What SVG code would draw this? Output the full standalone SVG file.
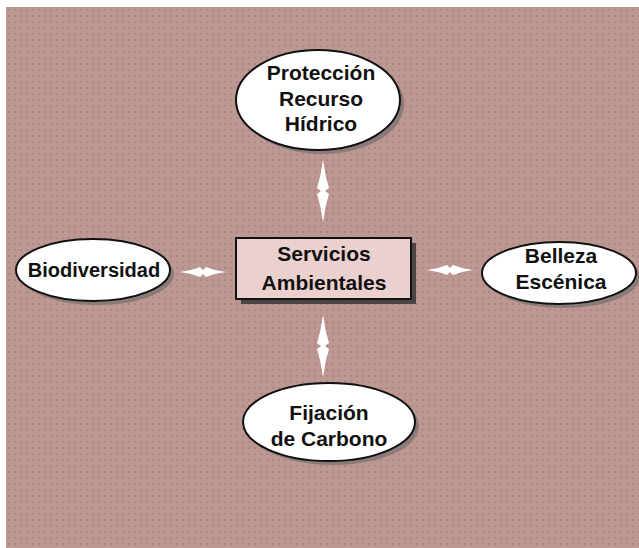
<svg xmlns="http://www.w3.org/2000/svg" width="639" height="548" viewBox="0 0 639 548">
<defs>
<pattern id="dots" x="6" y="7" width="6" height="6" patternUnits="userSpaceOnUse">
<rect width="6" height="6" fill="#bc9990"/>
<rect x="2" y="2" width="2" height="2" fill="#b8808c"/>
</pattern>
<pattern id="boxdots" x="0" y="0" width="6" height="6" patternUnits="userSpaceOnUse">
<rect width="6" height="6" fill="#ecd0d0"/>
<rect x="2" y="2" width="1" height="1" fill="#e8e0b8"/>
</pattern>
<path id="dblv" d="M0,-31 L3,-14 L6,-3 L2,0 L6,3 L3,14 L0,31 L-3,14 L-6,3 L-2,0 L-6,-3 L-3,-14 Z"/>
<path id="dblh" d="M-23,0 L-12,-2 L-3,-5 L0,-2 L3,-5 L12,-2 L23,0 L12,2 L3,5 L0,2 L-3,5 L-12,2 Z"/>
</defs>
<style>
.bg{fill:url(#dots)}
.node{fill:#ffffff;stroke:#111;stroke-width:2}
.shadow{fill:#8a7a78}
.lbl{font-family:"Liberation Sans",Arial,sans-serif;font-weight:bold;font-size:21px;fill:#111;text-anchor:middle}
.arrow{fill:#ffffff}
</style>
<rect x="0" y="0" width="639" height="548" fill="#ffffff"/>
<rect class="bg" x="6" y="7" width="633" height="541"/>
<g id="connectors">
<use href="#dblv" class="arrow" x="323" y="191"/>
<use href="#dblv" class="arrow" x="323" y="346"/>
<use href="#dblh" class="arrow" x="203" y="272"/>
<use href="#dblh" class="arrow" x="450" y="270"/>
</g>
<g id="node-proteccion">
<ellipse class="shadow" cx="322" cy="104" rx="82" ry="50"/>
<ellipse class="node" cx="318" cy="100" rx="82" ry="50"/>
<text class="lbl" x="321" y="80">Protección</text>
<text class="lbl" x="321" y="106">Recurso</text>
<text class="lbl" x="321" y="131">Hídrico</text>
</g>
<g id="node-servicios">
<rect x="241" y="243" width="175" height="61" style="fill:#4a4444"/>
<rect x="236" y="238" width="175" height="61" fill="url(#boxdots)" stroke="#111" stroke-width="2"/>
<text class="lbl" x="324" y="261">Servicios</text>
<text class="lbl" x="324" y="290">Ambientales</text>
</g>
<g id="node-biodiversidad">
<ellipse class="shadow" cx="97" cy="274" rx="77" ry="31"/>
<ellipse class="node" cx="93" cy="270" rx="77" ry="31"/>
<text class="lbl" x="94" y="277" style="font-size:20px">Biodiversidad</text>
</g>
<g id="node-belleza">
<ellipse class="shadow" cx="563" cy="277" rx="77" ry="31"/>
<ellipse class="node" cx="559" cy="273" rx="77" ry="31"/>
<text class="lbl" x="561" y="263">Belleza</text>
<text class="lbl" x="561" y="289">Escénica</text>
</g>
<g id="node-fijacion">
<ellipse class="shadow" cx="333" cy="426" rx="86" ry="39"/>
<ellipse class="node" cx="329" cy="422" rx="86" ry="39"/>
<text class="lbl" x="329" y="420">Fijación</text>
<text class="lbl" x="329" y="446">de Carbono</text>
</g>
</svg>
